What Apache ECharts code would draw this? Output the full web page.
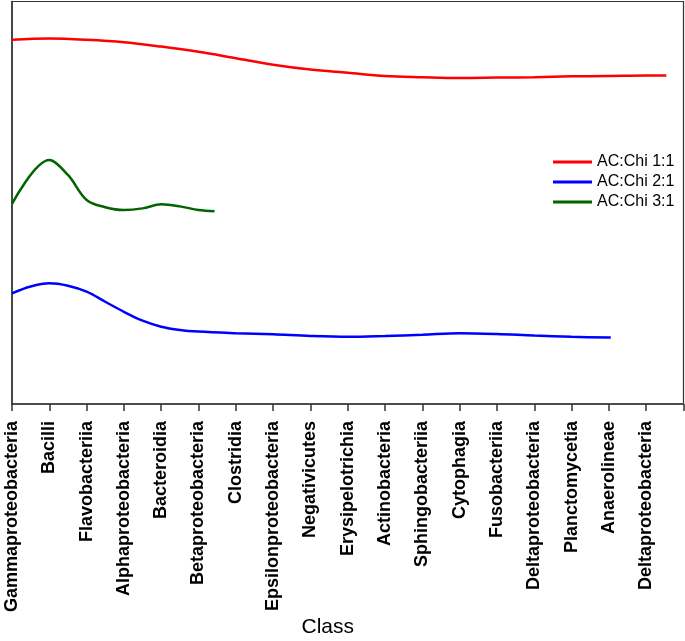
<!DOCTYPE html>
<html>
<head>
<meta charset="utf-8">
<script src="https://cdn.jsdelivr.net/npm/echarts@6/dist/echarts.min.js"></script>
<style>
  html, body { margin: 0; padding: 0; background: #fff; }
  #chart { width: 685px; height: 641px; }
</style>
</head>
<body>
<div id="chart"></div>
<script>
// Category tick labels (position index = category)
const categories = [
  'Gammaproteobacteria', 'Bacilli', 'Flavobacteriia', 'Alphaproteobacteria',
  'Bacteroidia', 'Betaproteobacteria', 'Clostridia', 'Epsilonproteobacteria',
  'Negativicutes', 'Erysipelotrichia', 'Actinobacteria', 'Sphingobacteriia',
  'Cytophagia', 'Fusobacteriia', 'Deltaproteobacteria', 'Planctomycetia',
  'Anaerolineae', 'Deltaproteobacteria', ''
];

const seriesNames = ['AC:Chi 1:1', 'AC:Chi 2:1', 'AC:Chi 3:1'];

// [category position, value] pairs (arbitrary 0-100 scale)
const ratio11 = [
  [0, 90.5], [1, 90.8], [2, 90.5], [3, 89.9], [4, 88.8], [5, 87.5],
  [6, 85.9], [7, 84.3], [8, 83.1], [9, 82.3], [10, 81.5], [11, 81.2],
  [12, 81.0], [13, 81.1], [14, 81.2], [15, 81.4], [16, 81.5], [17, 81.6],
  [17.54, 81.6]
];
const ratio21 = [
  [0, 27.5], [0.5, 29.2], [1, 30.0], [1.5, 29.4], [2, 27.9], [2.5, 25.4],
  [3, 22.9], [3.5, 20.7], [4, 19.2], [4.5, 18.4], [5, 18.0],
  [6, 17.6], [7, 17.3], [8, 16.9], [9, 16.7], [10, 16.9], [11, 17.2],
  [12, 17.6], [13, 17.4], [14, 17.0], [15, 16.7], [16.05, 16.5]
];
const ratio31 = [
  [0, 49.7], [1, 60.6], [1.5, 56.9], [2, 50.7], [2.5, 48.9],
  [3, 48.2], [3.5, 48.6], [4, 49.6], [4.5, 49.1], [5, 48.2], [5.43, 47.9]
];

const colors = ['#ff0000', '#0000ff', '#006400'];
const seriesData = [ratio11, ratio21, ratio31];

const chart = echarts.init(document.getElementById('chart'), null, { renderer: 'canvas' });

const font = 'Liberation Sans, Arial, sans-serif';

chart.setOption({
  animation: false,
  backgroundColor: '#ffffff',
  textStyle: { fontFamily: font },
  grid: {
    left: 12, right: 1.5, top: 1.5, bottom: 237,
    show: true, borderColor: '#333', borderWidth: 1.2,
    containLabel: false, outerBoundsMode: 'none'
  },
  legend: {
    orient: 'vertical',
    left: 553, top: 154,
    padding: 0,
    itemWidth: 39, itemHeight: 3, itemGap: 4,
    icon: 'rect',
    textStyle: { fontSize: 16, color: '#000', fontFamily: font, lineHeight: 16 },
    data: seriesNames
  },
  xAxis: {
    type: 'value',
    min: 0, max: 18, interval: 1,
    name: 'Class',
    nameLocation: 'middle',
    nameGap: 213,
    nameMoveOverlap: false,
    nameTextStyle: { fontSize: 21, color: '#000', fontFamily: font, padding: [0, 40, 0, 0] },
    axisLine: { show: true, lineStyle: { color: '#333', width: 1.5 } },
    axisTick: { show: true, length: 7, lineStyle: { color: '#333', width: 1.5 } },
    splitLine: { show: false },
    axisLabel: {
      rotate: 90,
      margin: 17,
      fontSize: 18,
      fontWeight: 'bold',
      color: '#000',
      fontFamily: font,
      showMinLabel: true,
      showMaxLabel: true,
      formatter: function (v) {
        const i = Math.round(v);
        return Math.abs(v - i) < 1e-6 ? (categories[i] || '') : '';
      }
    }
  },
  yAxis: {
    type: 'value',
    min: 0, max: 100,
    axisLine: { show: true, lineStyle: { color: '#333', width: 1.5 } },
    axisTick: { show: false },
    axisLabel: { show: false },
    splitLine: { show: false }
  },
  series: seriesNames.map(function (name, i) {
    return {
      name: name,
      type: 'line',
      smooth: 0.35,
      symbol: 'none',
      showSymbol: false,
      color: colors[i],
      lineStyle: { color: colors[i], width: 2.5 },
      data: seriesData[i]
    };
  })
});
</script>
</body>
</html>
